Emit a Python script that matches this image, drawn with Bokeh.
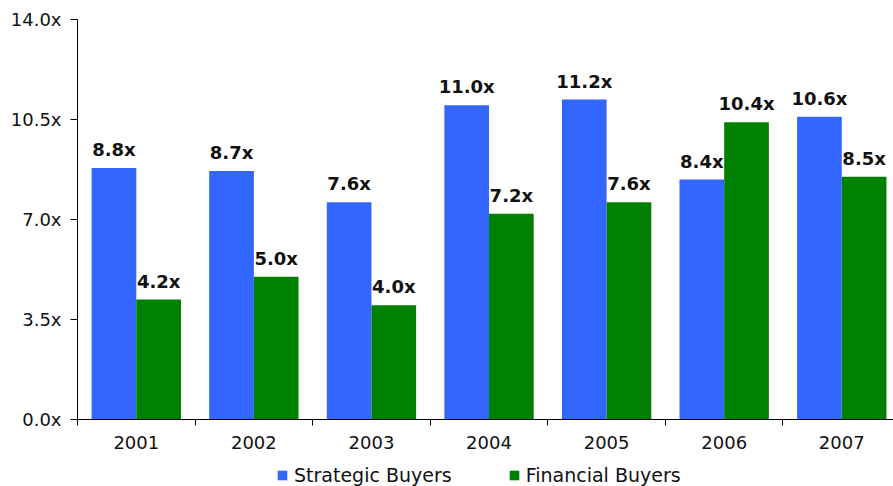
from bokeh.plotting import figure
from bokeh.layouts import column
from bokeh.models import (ColumnDataSource, Range1d, FixedTicker, PrintfTickFormatter,
                          CustomJSTickFormatter, Legend, LegendItem)
from bokeh.core.properties import value
from bokeh.transform import dodge
from bokeh.embed import file_html
from bokeh.resources import INLINE

years = ["2001", "2002", "2003", "2004", "2005", "2006", "2007"]
strategic = [8.8, 8.7, 7.6, 11.0, 11.2, 8.4, 10.6]
financial = [4.2, 5.0, 4.0, 7.2, 7.6, 10.4, 8.5]
y_ticks = [0, 3.5, 7.0, 10.5, 14.0]
series_names = ["Strategic Buyers", "Financial Buyers"]

BLUE = "#3366FF"
GREEN = "#008000"
FONT = "DejaVu Sans"
TXT = "#111111"

idx = list(range(len(years)))
centers = [i + 0.5 for i in idx]
src = ColumnDataSource(dict(
    x=centers,
    s=strategic,
    f=financial,
    s_lab=[f"{v:.1f}x" for v in strategic],
    f_lab=[f"{v:.1f}x" for v in financial],
))

W = 893
p = figure(width=W, height=458, output_backend="svg", toolbar_location=None,
           x_range=Range1d(0, 6.94), y_range=Range1d(0, 14),
           min_border_left=77, min_border_right=0, min_border_top=19,
           min_border_bottom=39)
p.outline_line_color = None
p.xgrid.grid_line_color = None
p.ygrid.grid_line_color = None

bw = 0.38
p.vbar(x=dodge("x", -bw / 2), top="s", width=bw, source=src,
       fill_color=BLUE, line_color=None)
p.vbar(x=dodge("x", bw / 2), top="f", width=bw, source=src,
       fill_color=GREEN, line_color=None)

for col, lab, off in (("s", "s_lab", -bw / 2), ("f", "f_lab", bw / 2)):
    p.text(x=dodge("x", off), y=col, text=lab, source=src,
           text_align="center", text_baseline="bottom", y_offset=-8,
           text_font=value(FONT), text_font_style="bold", text_font_size="18px",
           text_color=TXT)

# x axis: ticks at category boundaries (minor), labels at centers
xa = p.xaxis[0]
xa.ticker = FixedTicker(ticks=centers, minor_ticks=list(range(len(years) + 1)))
xa.formatter = CustomJSTickFormatter(args=dict(years=years),
                                     code="return years[Math.floor(tick)];")
xa.major_tick_line_color = None
xa.major_tick_out = 6
xa.major_tick_in = 0
xa.minor_tick_line_color = "black"
xa.minor_tick_out = 6
xa.minor_tick_in = 0
xa.axis_line_color = "black"
xa.major_label_text_font = FONT
xa.major_label_text_font_size = "18px"
xa.major_label_text_color = TXT
xa.major_label_standoff = 10

ya = p.yaxis[0]
ya.ticker = FixedTicker(ticks=y_ticks)
ya.formatter = PrintfTickFormatter(format="%.1fx")
ya.major_tick_out = 7
ya.major_tick_in = 0
ya.minor_tick_line_color = None
ya.axis_line_color = "black"
ya.major_label_text_font = FONT
ya.major_label_text_font_size = "18px"
ya.major_label_text_color = TXT
ya.major_label_standoff = 9

# legend strip below the chart (its bars fall outside its view; only the
# legend swatches show)
lg = figure(width=W, height=28, output_backend="svg", toolbar_location=None,
            min_border=0, x_axis_type=None, y_axis_type=None,
            x_range=Range1d(100, 101), y_range=Range1d(100, 101))
lg.outline_line_color = None
lg.xgrid.grid_line_color = None
lg.ygrid.grid_line_color = None
d1 = lg.vbar(x="x", top="s", width=bw, source=src, fill_color=BLUE, line_color=None)
d2 = lg.vbar(x="x", top="f", width=bw, source=src, fill_color=GREEN, line_color=None)
legend = Legend(items=[LegendItem(label=series_names[0], renderers=[d1]),
                       LegendItem(label=series_names[1], renderers=[d2])],
                orientation="horizontal", location=(199, 0),
                border_line_color=None, background_fill_alpha=0,
                label_text_font=FONT, label_text_font_size="19px",
                label_text_color=TXT,
                glyph_width=12, glyph_height=12,
                label_standoff=6, spacing=56, padding=0, margin=0)
lg.add_layout(legend, "center")

open("out.html", "w").write(file_html(column(p, lg, spacing=0), INLINE))
